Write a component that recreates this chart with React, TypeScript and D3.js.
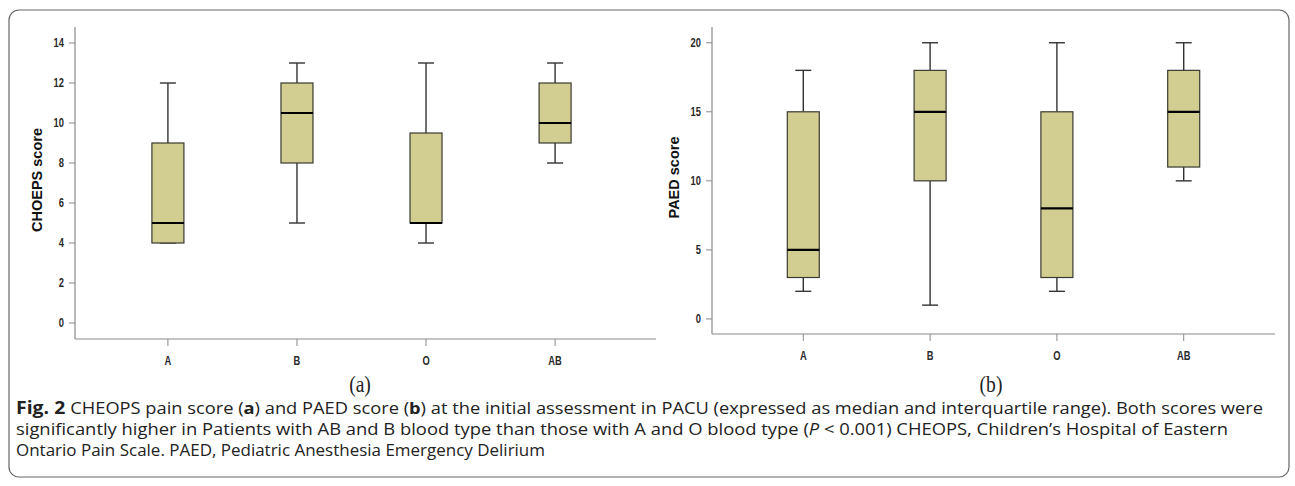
import React, { useEffect, useRef } from 'react';
import * as d3 from 'd3';

// blood groups
const groups = ['A', 'B', 'O', 'AB'];

// CHEOPS score (panel a): whisker low, Q1, median, Q3, whisker high
const cheopsMin = [4, 5, 4, 8];
const cheopsQ1 = [4, 8, 5, 9];
const cheopsMedian = [5, 10.5, 5, 10];
const cheopsQ3 = [9, 12, 9.5, 12];
const cheopsMax = [12, 13, 13, 13];
const cheopsTicks = [0, 2, 4, 6, 8, 10, 12, 14];

// PAED score (panel b)
const paedMin = [2, 1, 2, 10];
const paedQ1 = [3, 10, 3, 11];
const paedMedian = [5, 15, 8, 15];
const paedQ3 = [15, 18, 15, 18];
const paedMax = [18, 20, 20, 20];
const paedTicks = [0, 5, 10, 15, 20];

const captionLines = [
  ' CHEOPS pain score (a) and PAED score (b) at the initial assessment in PACU (expressed as median and interquartile range). Both scores were',
  'significantly higher in Patients with AB and B blood type than those with A and O blood type (P < 0.001) CHEOPS, Children’s Hospital of Eastern',
  'Ontario Pain Scale. PAED, Pediatric Anesthesia Emergency Delirium',
];

const sans = '"Liberation Sans", Arial, sans-serif';

// narrow bold label (Arial Narrow look): squeeze Liberation Sans horizontally
function narrowText(g, x, y, anchor, size, txt) {
  g.append('text')
    .attr('transform', `translate(${x},${y}) scale(0.78,1)`)
    .attr('text-anchor', anchor)
    .style('font-family', sans)
    .style('font-weight', 'bold')
    .style('font-size', size)
    .style('fill', '#2a2a2a')
    .text(txt);
}

function drawPanel(svg, cfg) {
  const { x0, x1, xEnd, yTop, yBottom, domain, ticks, label, labelX, tag, tagX, stats } = cfg;
  const g = svg.append('g');

  const xScale = d3.scalePoint().domain(groups).range([x0, x1]).padding(0.72);
  const yScale = d3.scaleLinear().domain(domain).range([yBottom, yTop]);

  // axes lines
  g.append('line')
    .attr('x1', x0).attr('x2', x0).attr('y1', yTop).attr('y2', yBottom)
    .attr('stroke', '#8a8a8a').attr('stroke-width', 1.2);
  g.append('line')
    .attr('x1', x0).attr('x2', xEnd).attr('y1', yBottom).attr('y2', yBottom)
    .attr('stroke', '#8a8a8a').attr('stroke-width', 1.2);

  // y ticks
  ticks.forEach(t => {
    const y = yScale(t);
    g.append('line')
      .attr('x1', x0 - 6).attr('x2', x0).attr('y1', y).attr('y2', y)
      .attr('stroke', '#8a8a8a').attr('stroke-width', 1);
    narrowText(g, x0 - 11, y + 4, 'end', '12px', t);
  });

  // x ticks + labels
  groups.forEach(c => {
    const x = xScale(c);
    g.append('line')
      .attr('x1', x).attr('x2', x).attr('y1', yBottom).attr('y2', yBottom + 7)
      .attr('stroke', '#8a8a8a').attr('stroke-width', 1);
    narrowText(g, x, yBottom + 26, 'middle', '12px', c);
  });

  // boxes
  const boxW = 32;
  const capW = 16;
  groups.forEach((c, i) => {
    const x = xScale(c);
    const lo = yScale(stats.min[i]);
    const q1 = yScale(stats.q1[i]);
    const med = yScale(stats.median[i]);
    const q3 = yScale(stats.q3[i]);
    const hi = yScale(stats.max[i]);

    // whiskers
    g.append('line').attr('x1', x).attr('x2', x).attr('y1', hi).attr('y2', q3)
      .attr('stroke', '#333').attr('stroke-width', 1.4);
    g.append('line').attr('x1', x).attr('x2', x).attr('y1', q1).attr('y2', lo)
      .attr('stroke', '#333').attr('stroke-width', 1.4);
    g.append('line').attr('x1', x - capW / 2).attr('x2', x + capW / 2).attr('y1', hi).attr('y2', hi)
      .attr('stroke', '#333').attr('stroke-width', 1.4);
    g.append('line').attr('x1', x - capW / 2).attr('x2', x + capW / 2).attr('y1', lo).attr('y2', lo)
      .attr('stroke', '#333').attr('stroke-width', 1.4);

    g.append('rect')
      .attr('x', x - boxW / 2).attr('y', q3)
      .attr('width', boxW).attr('height', q1 - q3)
      .attr('fill', '#d2cd90')
      .attr('stroke', '#3a3a32').attr('stroke-width', 1.2);

    g.append('line').attr('x1', x - boxW / 2).attr('x2', x + boxW / 2).attr('y1', med).attr('y2', med)
      .attr('stroke', '#000').attr('stroke-width', 2.2);
  });

  // y axis label
  g.append('text')
    .attr('transform', `translate(${labelX},${(yTop + yBottom) / 2 - 3}) rotate(-90)`)
    .attr('text-anchor', 'middle')
    .attr('dy', '0.35em')
    .style('font-family', sans)
    .style('font-weight', 'bold')
    .style('font-size', '14.5px')
    .style('fill', '#111')
    .text(label);

  // panel tag
  g.append('text')
    .attr('transform', `translate(${tagX},392) scale(0.85,1)`)
    .attr('text-anchor', 'middle')
    .style('font-family', '"Liberation Serif", serif')
    .style('font-size', '23px')
    .style('fill', '#222')
    .text(tag);
}

export default function App() {
  const svgRef = useRef(null);

  useEffect(() => {
    const svg = d3.select(svgRef.current);
    svg.selectAll('*').remove();

    // outer frame
    svg.append('rect')
      .attr('x', 9).attr('y', 10)
      .attr('width', 1280).attr('height', 467)
      .attr('rx', 10).attr('ry', 10)
      .attr('fill', '#fff')
      .attr('stroke', '#666').attr('stroke-width', 1.2);

    drawPanel(svg, {
      x0: 75, x1: 648, xEnd: 656, yTop: 27, yBottom: 339,
      domain: [-0.8, 14.8], ticks: cheopsTicks,
      label: 'CHOEPS score', labelX: 37, tag: '(a)', tagX: 360,
      stats: { min: cheopsMin, q1: cheopsQ1, median: cheopsMedian, q3: cheopsQ3, max: cheopsMax },
    });

    drawPanel(svg, {
      x0: 712, x1: 1275, xEnd: 1275, yTop: 27, yBottom: 334,
      domain: [-1.09, 21.14], ticks: paedTicks,
      label: 'PAED score', labelX: 674, tag: '(b)', tagX: 991,
      stats: { min: paedMin, q1: paedQ1, median: paedMedian, q3: paedQ3, max: paedMax },
    });

    // caption
    const capFont = '"Open Sans", "Noto Sans", sans-serif';
    const widths = [1247, 1212, 529];
    const ys = [414, 435, 456];
    captionLines.forEach((line, i) => {
      const t = svg.append('text')
        .attr('x', 16).attr('y', ys[i])
        .attr('textLength', widths[i])
        .attr('lengthAdjust', 'spacingAndGlyphs')
        .style('font-family', capFont)
        .style('font-size', '16px')
        .style('fill', '#222');
      if (i === 0) {
        t.append('tspan').style('font-weight', 'bold').style('font-size', '17px').text('Fig. 2 ');
        const parts = line.split(/\((a|b)\)/);
        parts.forEach((p, k) => {
          if (k % 2 === 1) {
            t.append('tspan').text('(');
            t.append('tspan').style('font-weight', 'bold').text(p);
            t.append('tspan').text(')');
          } else {
            t.append('tspan').text(p);
          }
        });
      } else if (i === 1) {
        const [before, after] = line.split('P <');
        t.append('tspan').text(before);
        t.append('tspan').style('font-style', 'italic').text('P');
        t.append('tspan').text(' <' + after);
      } else {
        t.text(line);
      }
    });
  }, []);

  return (
    <svg
      ref={svgRef}
      width={1295}
      height={486}
      style={{ position: 'absolute', left: 0, top: 0, background: '#fff' }}
    />
  );
}
